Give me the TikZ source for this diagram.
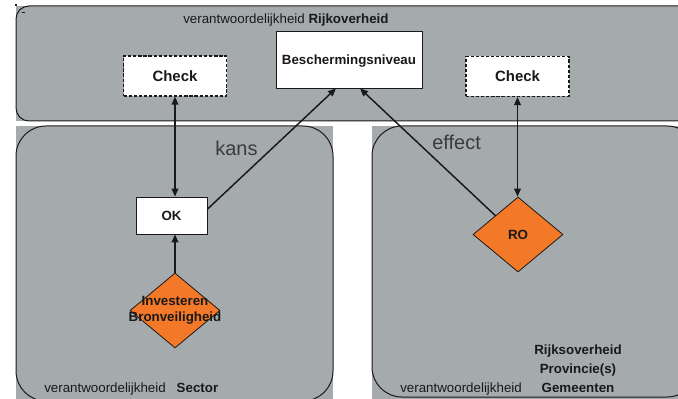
\documentclass[tikz,border=0pt]{standalone}
\usepackage{fontspec}
\setmainfont{Liberation Sans}
\usetikzlibrary{shapes.geometric,arrows.meta,calc}
\definecolor{panelgray}{RGB}{165,170,172}
\definecolor{riskorange}{RGB}{243,121,40}
\definecolor{ink}{RGB}{25,25,25}
\begin{document}
\begin{tikzpicture}[x=0.75pt,y=-0.75pt,
  panel/.style={draw=ink,line width=0.75pt},
  checkbox/.style={draw=ink,fill=white,line width=0.9pt,dash pattern=on 2.4pt off 1.4pt,
    minimum width=77.25pt,minimum height=30pt,inner sep=0pt,
    font=\fontsize{11.2}{13}\selectfont\bfseries,text=ink},
  whitebox/.style={draw=ink,fill=white,line width=0.6pt,inner sep=0pt,text depth=0pt,
    font=\fontsize{10}{12}\selectfont\bfseries,text=ink},
  diam/.style={shape=diamond,draw=ink,fill=riskorange,line width=0.6pt,inner sep=0pt,
    minimum width=67.5pt,minimum height=56.25pt},
  boldlbl/.style={inner sep=0pt,font=\fontsize{10}{11.6}\selectfont\bfseries,text=ink},
  resp/.style={inner sep=0pt,font=\fontsize{10}{12}\selectfont,text=ink},
  flowlbl/.style={inner sep=0pt,font=\fontsize{15}{18}\selectfont,text=ink!85},
  arr/.style={draw=ink,line width=1.1pt,-{Triangle[length=6pt,width=5pt]}},
  dbl/.style={draw=ink,line width=1.1pt,{Triangle[length=6pt,width=5pt]}-{Triangle[length=6pt,width=5pt]}}]
\useasboundingbox (0,0) rectangle (678,399);

% panels: square grey fields with rounded outlines
\begin{scope}
  \clip (0,0) rectangle (678,399);
  \fill[panelgray] (16,6) rectangle (678,121);
  \draw[panel,rounded corners=9.75pt] (16,6) rectangle (705,121);
  \fill[panelgray] (16,126) rectangle (333,399);
  \draw[panel,rounded corners=22.5pt] (16,126) rectangle (333,401);
  \fill[panelgray] (372,126) rectangle (678,399);
  \draw[panel,rounded corners=22.5pt] (372,126) rectangle (697,397);
\end{scope}
\fill[ink] (14.5,4.5) rectangle (16.5,6.5);
\fill[ink] (22,12) rectangle (25,13.5);

% responsibility captions
\node[resp,anchor=base west] (toprsp) at (183,23.5) {verantwoordelijkheid \textbf{Rijkoverheid}};
\node[resp,anchor=base west] (secrsp) at (44,392) {verantwoordelijkheid\hspace{8.2pt}\textbf{Sector}};
\node[resp,anchor=base west] (rorsp) at (400,392) {verantwoordelijkheid};
\node[boldlbl,anchor=base] (gov1) at (578,354) {Rijksoverheid};
\node[boldlbl,anchor=base] (gov2) at (578,373) {Provincie(s)};
\node[boldlbl,anchor=base] (gov3) at (578,392) {Gemeenten};

% boxes and decisions
\node[checkbox] (chkL) at (175,76) {Check};
\node[checkbox] (chkR) at (517.5,76.5) {Check};
\node[whitebox,minimum width=109.5pt,minimum height=42.75pt] (bes) at (349,59.5) {Beschermingsniveau};
\node[whitebox,minimum width=53.25pt,minimum height=27.75pt] (ok) at (171.5,215.5) {OK};
\node[diam] (inv) at (175,310.5) {};
\node[boldlbl,align=center] (invtxt) at (inv.center) {Investeren\\Bronveiligheid};
\node[diam] (ro) at (518,234.5) {};
\node[boldlbl] (rotxt) at (ro.center) {RO};

% connectors
\draw[dbl] (chkL.south) -- (chkL.south |- ok.north);
\draw[arr] (inv.north) -- (inv.north |- ok.south);
\draw[arr] (ok.10) -- ($(bes.south)+(-13,0)$);
\draw[arr] (ro.north west) -- ($(bes.south)+(11,0)$);
\draw[dbl] (chkR.south) -- (chkR.south |- ro.north);

% connector labels
\node[flowlbl,anchor=base west] (kans) at (215,156) {kans};
\node[flowlbl,anchor=base west] (effect) at (432,150) {effect};
\end{tikzpicture}
\end{document}
